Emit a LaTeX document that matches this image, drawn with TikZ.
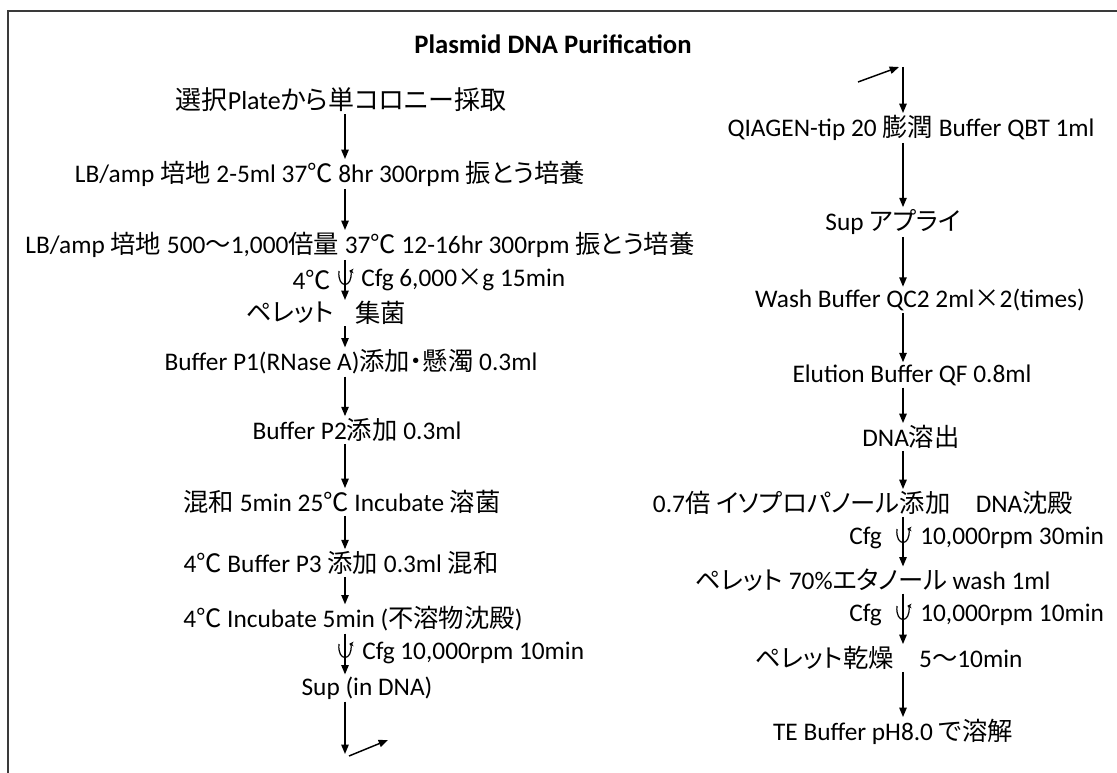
\documentclass[tikz,border=0pt]{standalone}
\usepackage{fontspec}
\setmainfont{Carlito}
\newfontfamily\jpfont{Noto Sans CJK JP}[RawFeature=+palt]
\newcommand{\jp}[1]{{\jpfont #1}}
\usepackage{tikz}
\usetikzlibrary{arrows.meta,positioning}
\definecolor{framegray}{HTML}{3A3A3A}
\tikzset{
  steptext/.style={inner sep=1.5pt, font=\fontsize{19}{23}\selectfont, text=black},
  titletext/.style={inner sep=1.5pt, font=\bfseries\fontsize{20}{24}\selectfont},
  flow/.style={-{Triangle[length=7pt,width=5.5pt]}, line width=1.1pt, draw=black},
  spinarrow/.style={-{Stealth[length=3.5pt,width=3.5pt]}, line width=0.9pt, draw=black}
}
% centrifuge mark round an arrow
\newcommand{\spinmark}[1]{%
  \draw[spinarrow] ([shift={(-6,-9)}]#1) .. controls ([shift={(-8,9)}]#1) and ([shift={(8,9)}]#1) .. ([shift={(6,-9)}]#1) -- ([shift={(4,-9)}]#1);}

\begin{document}
\begin{tikzpicture}[x=0.75pt,y=-0.75pt]
  \useasboundingbox (0,0) rectangle (1117,773);
  % frame
  \draw[framegray, line width=1.1pt] (8,773) -- (8,11) -- (1117,11);

  % title
  \node[titletext] (title) at (553,44) {Plasmid DNA Purification};

  % left column
  \coordinate (colL) at (345,0);
  \node[steptext, font=\fontsize{19.5}{23}\selectfont] (pick) at (341,100) {\jp{選択}Plate\jp{から単コロニー採取}};
  \node[steptext] (preculture) at (330,174) {LB/amp \jp{培地} 2-5ml 37\jp{℃} 8hr 300rpm \jp{振とう培養}};
  \node[steptext] (culture) at (360,245) {LB/amp \jp{培地} 500\jp{〜}1,000\jp{倍量} 37\jp{℃} 12-16hr 300rpm \jp{振とう培養}};
  \node[steptext, anchor=east] (cfgtemp) at (333,280) {4\jp{℃}};
  \node[steptext, anchor=west] (cfgone) at (359,280) {Cfg 6,000\jp{×}g 15min};
  \coordinate (spinone) at (345,280);
  \node[steptext, anchor=east] (pellet) at (336,313) {\jp{ペレット}};
  \node[steptext, anchor=west] (harvest) at (353,313) {\jp{集菌}};
  \node[steptext] (bufferone) at (351,362) {Buffer P1(RNase A)\jp{添加・懸濁} 0.3ml};
  \node[steptext] (buffertwo) at (357,430) {Buffer P2\jp{添加} 0.3ml};
  \node[steptext] (lysis) at (342,502) {\jp{混和} 5min 25\jp{℃} Incubate \jp{溶菌}};
  \node[steptext] (bufferthree) at (341,563) {4\jp{℃} Buffer P3 \jp{添加} 0.3ml \jp{混和}};
  \node[steptext] (settle) at (353,619) {4\jp{℃} Incubate 5min (\jp{不溶物沈殿})};
  \coordinate (spintwo) at (345,653);
  \node[steptext, anchor=west] (cfgtwo) at (360,653) {Cfg 10,000rpm 10min};
  \node[steptext] (sup) at (367,688) {Sup (in DNA)};
  \coordinate (endL) at (345,754);
  \coordinate (turnL) at (349,756);
  \coordinate (outL) at (388,740);

  % right column
  \coordinate (colR) at (903,0);
  \coordinate (inR) at (858,82);
  \coordinate (topR) at (899,67);
  \node[steptext] (tip) at (911,128) {QIAGEN-tip 20 \jp{膨潤} Buffer QBT 1ml};
  \node[steptext] (apply) at (893,222) {Sup \jp{アプライ}};
  \node[steptext] (wash) at (920,300) {Wash Buffer QC2 2ml\jp{×}2(times)};
  \node[steptext] (elute) at (912,375) {Elution Buffer QF 0.8ml};
  \node[steptext] (eluted) at (911,437) {DNA\jp{溶出}};
  \node[steptext] (precip) at (863,503) {0.7\jp{倍 イソプロパノール添加　}DNA\jp{沈殿}};
  \node[steptext, anchor=east] (cfgthreel) at (884,538) {Cfg};
  \coordinate (spinthree) at (903,538);
  \node[steptext, anchor=west] (cfgthree) at (918,538) {10,000rpm 30min};
  \node[steptext] (rinse) at (873,580) {\jp{ペレット} 70\%\jp{エタノール} wash 1ml};
  \node[steptext, anchor=east] (cfgfourl) at (884,615) {Cfg};
  \coordinate (spinfour) at (903,615);
  \node[steptext, anchor=west] (cfgfour) at (918,615) {10,000rpm 10min};
  \node[steptext] (dry) at (889,658) {\jp{ペレット乾燥　}5\jp{〜}10min};
  \node[steptext] (dissolve) at (893,732) {TE Buffer pH8.0 \jp{で溶解}};

  % arrows
  \draw[flow] (pick.south -| colL) -- (preculture.north -| colL);
  \draw[flow] (preculture.south -| colL) -- (culture.north -| colL);
  \draw[flow] (culture.south -| colL) -- (pellet.north -| colL);
  \draw[flow] (pellet.south -| colL) -- (bufferone.north -| colL);
  \draw[flow] (bufferone.south -| colL) -- (buffertwo.north -| colL);
  \draw[flow] (buffertwo.south -| colL) -- (lysis.north -| colL);
  \draw[flow] (lysis.south -| colL) -- (bufferthree.north -| colL);
  \draw[flow] (bufferthree.south -| colL) -- (settle.north -| colL);
  \draw[flow] (settle.south -| colL) -- (sup.north -| colL);
  \draw[flow] (sup.south -| colL) -- (endL);
  \draw[flow] (turnL) -- (outL);
  \spinmark{spinone}
  \spinmark{spintwo}

  \draw[flow] (inR) -- (topR);
  \draw[flow] (topR -| colR) -- (tip.north -| colR);
  \draw[flow] (tip.south -| colR) -- (apply.north -| colR);
  \draw[flow] (apply.south -| colR) -- (wash.north -| colR);
  \draw[flow] (wash.south -| colR) -- (elute.north -| colR);
  \draw[flow] (elute.south -| colR) -- (eluted.north -| colR);
  \draw[flow] (eluted.south -| colR) -- (precip.north -| colR);
  \draw[flow] (precip.south -| colR) -- (rinse.north -| colR);
  \draw[flow] (rinse.south -| colR) -- (dry.north -| colR);
  \draw[flow] (dry.south -| colR) -- (dissolve.north -| colR);
  \spinmark{spinthree}
  \spinmark{spinfour}
\end{tikzpicture}
\end{document}
